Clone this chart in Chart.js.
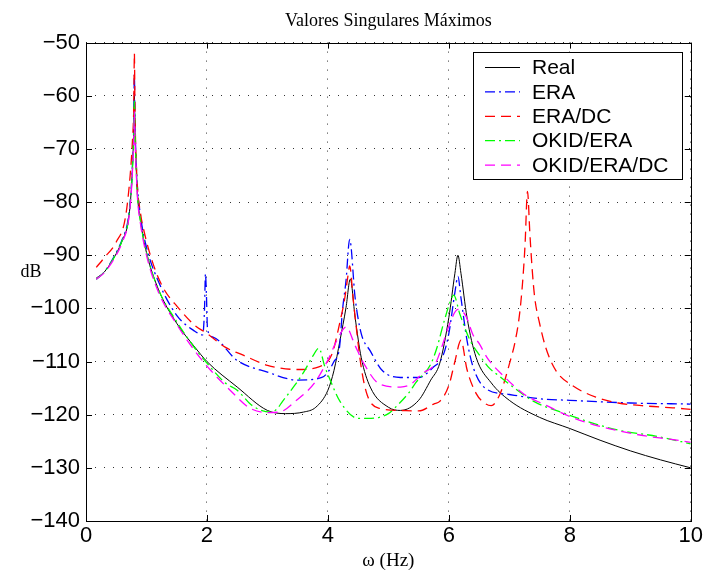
<!DOCTYPE html>
<html>
<head>
<meta charset="utf-8">
<script src="https://cdn.jsdelivr.net/npm/chart.js@4/dist/chart.umd.min.js"></script>
<style>
  body { margin: 0; background: #fff; }
  canvas { display: block; }
</style>
</head>
<body>
<canvas id="chart" width="705" height="572"></canvas>
<script>
// ===== DATA =====
const xTicks = [0, 2, 4, 6, 8, 10];
const yTicks = [-140, -130, -120, -110, -100, -90, -80, -70, -60, -50];

const realHz = [0.17, 0.3, 0.5, 0.6, 0.7, 0.75, 0.775, 0.79, 0.8, 0.81, 0.825, 0.85, 0.9, 1.0, 1.2, 1.5, 1.8, 2.0, 2.5, 3.0, 3.3, 3.6, 3.8, 4.0, 4.1, 4.2, 4.3, 4.37, 4.45, 4.55, 4.7, 5.0, 5.2, 5.5, 5.7, 5.85, 6.0, 6.1, 6.15, 6.2, 6.3, 6.45, 6.7, 7.0, 7.5, 8.0, 8.5, 9.0, 9.5, 10];
const realDb = [-94.3, -93.2, -89.7, -87.2, -83.5, -77.5, -71.5, -66, -60, -66, -72, -78.5, -83.5, -89.5, -96.5, -102.8, -107.3, -110, -114.8, -119.2, -119.8, -119.5, -118.6, -115.4, -111.7, -106, -99.8, -94.5, -101.7, -109.2, -114.8, -118.6, -119.2, -117.3, -113.5, -110.3, -101.7, -93.4, -90, -93.4, -101.7, -109.2, -114, -117.3, -120.5, -122.6, -124.8, -126.8, -128.5, -130];

const eraHz = [0.17, 0.3, 0.5, 0.6, 0.7, 0.75, 0.775, 0.79, 0.8, 0.81, 0.825, 0.85, 0.9, 1.0, 1.2, 1.5, 1.8, 1.93, 1.96, 1.975, 1.99, 2.01, 2.1, 2.5, 3.0, 3.5, 3.9, 4.0, 4.1, 4.19, 4.24, 4.3, 4.36, 4.45, 4.55, 4.7, 4.9, 5.2, 5.5, 5.75, 5.9, 6.0, 6.1, 6.15, 6.2, 6.3, 6.4, 6.6, 7.0, 7.5, 8.0, 9.0, 10];
const eraDb = [-94.5, -93.2, -89.5, -87, -83, -77, -71, -65, -56, -65, -71, -77, -82.5, -88.5, -95, -101.3, -104.3, -105, -100, -93.5, -97, -104, -105.4, -109.8, -112, -113.5, -113, -112, -110, -107.5, -100.5, -94.7, -87, -98, -104.7, -108, -111.7, -113, -113, -111, -109, -104.7, -97, -94, -98, -106, -111, -115, -116.2, -117, -117.3, -117.8, -118];

const eraDcHz = [0.17, 0.3, 0.5, 0.65, 0.73, 0.77, 0.79, 0.8, 0.81, 0.84, 0.9, 0.95, 1.1, 1.27, 1.52, 1.8, 2.0, 2.3, 2.6, 3.0, 3.5, 3.85, 4.07, 4.2, 4.28, 4.33, 4.36, 4.42, 4.55, 4.65, 4.85, 5.2, 5.5, 5.75, 5.85, 6.0, 6.1, 6.2, 6.3, 6.45, 6.6, 6.7, 6.85, 7.0, 7.1, 7.17, 7.22, 7.26, 7.3, 7.34, 7.38, 7.42, 7.5, 7.6, 7.77, 8.04, 8.43, 8.8, 9.3, 9.7, 10];
const eraDcDb = [-92.3, -90.5, -87.5, -83, -75, -68, -62, -52, -63, -75, -82, -85, -91.3, -96, -99.8, -103.2, -104.7, -107.3, -108.8, -110.7, -111.5, -111, -108.5, -102.5, -98, -94, -92, -98.5, -111, -116.3, -118.8, -119.2, -119.3, -118, -117.5, -114.5, -110, -106, -111.5, -116, -117.9, -118.3, -116, -110.5, -106, -101, -95, -88, -78, -86, -93, -98, -102.8, -107.3, -111.7, -114.5, -116.7, -117.8, -118.4, -118.7, -119];

const okidHz = [0.17, 0.3, 0.5, 0.6, 0.7, 0.75, 0.775, 0.79, 0.8, 0.81, 0.825, 0.85, 0.9, 1.0, 1.2, 1.5, 1.8, 2.0, 2.3, 2.5, 2.75, 3.05, 3.15, 3.25, 3.45, 3.6, 3.75, 3.85, 3.95, 4.02, 4.2, 4.5, 4.65, 4.85, 5.0, 5.1, 5.35, 5.45, 5.7, 5.8, 5.92, 6.03, 6.08, 6.18, 6.35, 6.52, 6.65, 6.85, 7.05, 7.42, 7.9, 8.3, 8.8, 9.45, 10];
const okidDb = [-94.5, -93.2, -89.7, -87.2, -83.5, -77.5, -72, -67, -61, -67, -72, -78.5, -83.5, -89.5, -96.5, -102.5, -107.5, -110.3, -114, -115.4, -118.3, -119.5, -119, -117.5, -114.5, -112, -109, -107.5, -111, -113, -117.5, -120.7, -120.7, -120.5, -119.8, -118.8, -115.7, -114, -110.5, -107.5, -102.5, -98.5, -97.5, -101, -106, -109, -111, -112.9, -114.7, -117.6, -119.7, -121.3, -122.9, -124.1, -125.5];

const okidDcHz = [0.17, 0.3, 0.5, 0.6, 0.7, 0.75, 0.775, 0.79, 0.8, 0.81, 0.825, 0.85, 0.9, 1.0, 1.2, 1.5, 1.8, 2.05, 2.4, 2.7, 3.0, 3.2, 3.48, 3.78, 4.0, 4.15, 4.3, 4.45, 4.6, 4.85, 5.2, 5.35, 5.57, 5.78, 5.9, 6.0, 6.15, 6.28, 6.4, 6.5, 6.64, 6.93, 7.25, 7.62, 7.97, 8.4, 8.8, 9.25, 9.65, 10];
const okidDcDb = [-94.5, -93.3, -90, -87.5, -83.7, -78, -72.5, -68, -63, -68, -72.5, -79, -84, -90, -97, -103, -108, -111.5, -115.6, -118.7, -119.6, -119.5, -117.3, -114, -109.7, -106, -103.5, -107, -110.5, -114.2, -114.8, -114.4, -112.2, -110.3, -106.7, -103.3, -100.2, -101.4, -105, -106.6, -109.4, -113, -116.2, -118.3, -120.2, -121.9, -123, -124, -124.6, -125.2];

const seriesNames = ['Real', 'ERA', 'ERA/DC', 'OKID/ERA', 'OKID/ERA/DC'];

function pts(xs, ys) { return xs.map((x, i) => ({ x: x, y: ys[i] })); }

const SANS = '"Liberation Sans", Arial, sans-serif';
const SERIF = '"Liberation Serif", "Times New Roman", serif';

function line(label, data, color, dash, order) {
    return {
        label: label, data: data, borderColor: color, borderWidth: dash.length ? 1.3 : 1,
        borderDash: dash, pointRadius: 0, fill: false, order: order,
        cubicInterpolationMode: 'monotone'
    };
}

// ===== EXTRA DRAWING: frame, inward ticks, dB label, legend =====
const matlabLook = {
    id: 'matlabLook',
    afterDatasetsDraw(chart) {
        const ctx = chart.ctx;
        const a = chart.chartArea;
        const xs = chart.scales.x, ys = chart.scales.y;
        ctx.save();
        ctx.setLineDash([]);
        ctx.strokeStyle = '#000';
        ctx.lineWidth = 1;
        ctx.beginPath();
        xTicks.forEach(t => {
            const px = Math.round(xs.getPixelForValue(t)) + 0.5;
            ctx.moveTo(px, a.bottom); ctx.lineTo(px, a.bottom - 6);
            ctx.moveTo(px, a.top); ctx.lineTo(px, a.top + 6);
        });
        yTicks.forEach(t => {
            const py = Math.round(ys.getPixelForValue(t)) + 0.5;
            ctx.moveTo(a.left, py); ctx.lineTo(a.left + 6, py);
            ctx.moveTo(a.right, py); ctx.lineTo(a.right - 6, py);
        });
        ctx.stroke();
        ctx.strokeRect(Math.round(a.left) + 0.5, Math.round(a.top) + 0.5,
            Math.round(a.right - a.left), Math.round(a.bottom - a.top));

        // y label, horizontal like the original
        ctx.fillStyle = '#000';
        ctx.font = '18px ' + SERIF;
        ctx.textAlign = 'center';
        ctx.textBaseline = 'middle';
        ctx.fillText('dB', 31, 272);

        // legend box
        const bx = 473.5, by = 52.5, bw = 209, bh = 127;
        ctx.fillStyle = '#fff';
        ctx.fillRect(bx, by, bw, bh);
        ctx.strokeRect(bx, by, bw, bh);
        ctx.font = '21px ' + SANS;
        ctx.textAlign = 'left';
        chart.data.datasets.forEach((ds, i) => {
            const y = 67.5 + i * 24.4;
            ctx.strokeStyle = ds.borderColor;
            ctx.lineWidth = ds.borderWidth;
            ctx.setLineDash(ds.borderDash);
            ctx.beginPath();
            ctx.moveTo(485, y); ctx.lineTo(520, y);
            ctx.stroke();
            ctx.setLineDash([]);
            ctx.fillStyle = '#000';
            ctx.fillText(ds.label, 532, y + 1);
        });
        ctx.restore();
    }
};

new Chart(document.getElementById('chart'), {
    type: 'line',
    data: {
        datasets: [
            line(seriesNames[0], pts(realHz, realDb), '#000000', [], 5),
            line(seriesNames[1], pts(eraHz, eraDb), '#0000ff', [10, 4, 2, 4], 4),
            line(seriesNames[2], pts(eraDcHz, eraDcDb), '#ff0000', [10, 6], 3),
            line(seriesNames[3], pts(okidHz, okidDb), '#00ff00', [10, 4, 2, 4], 2),
            line(seriesNames[4], pts(okidDcHz, okidDcDb), '#ff00ff', [10, 6], 1)
        ]
    },
    options: {
        responsive: false,
        animation: false,
        layout: { padding: { left: 0, right: 13, top: 0, bottom: 0 } },
        plugins: {
            legend: { display: false },
            tooltip: { enabled: false },
            title: {
                display: true,
                text: 'Valores Singulares Máximos',
                color: '#000',
                fullSize: false,
                font: { family: SERIF, size: 18, weight: 'normal' },
                padding: { top: 10, bottom: 11 }
            }
        },
        scales: {
            x: {
                type: 'linear', min: 0, max: 10,
                afterBuildTicks: s => { s.ticks = xTicks.map(v => ({ value: v })); },
                afterFit: s => { s.height = 51; },
                ticks: { color: '#000', padding: 2, font: { family: SANS, size: 22 }, maxRotation: 0 },
                grid: { color: '#333', lineWidth: 1, drawTicks: false },
                border: { display: false, dash: [1, 8] },
                title: {
                    display: true, text: 'ω (Hz)', color: '#000',
                    font: { family: SERIF, size: 19, weight: 'normal' },
                    padding: { top: 0, bottom: 0 }
                }
            },
            y: {
                type: 'linear', min: -140, max: -50,
                afterBuildTicks: s => { s.ticks = yTicks.map(v => ({ value: v })); },
                afterFit: s => { s.width = 86; },
                ticks: {
                    color: '#000', padding: 6, font: { family: SANS, size: 22 },
                    callback: v => String(v).replace('-', '\u2212')
                },
                grid: { color: '#333', lineWidth: 1, drawTicks: false },
                border: { display: false, dash: [1, 8] }
            }
        }
    },
    plugins: [matlabLook]
});
</script>
</body>
</html>
